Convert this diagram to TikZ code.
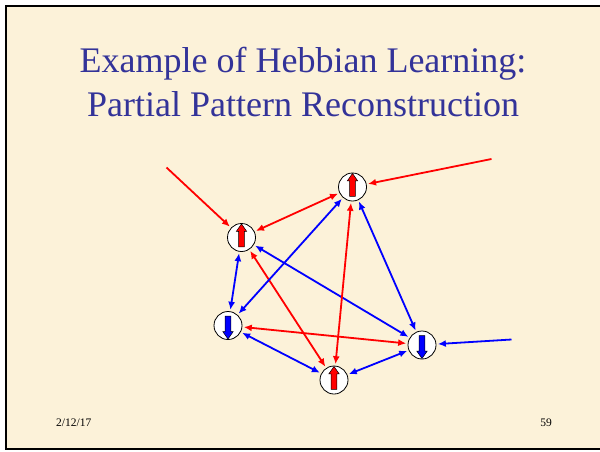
\documentclass[tikz,border=0pt]{standalone}
\usepackage{fontspec}
\setmainfont{Liberation Serif}
\usepackage{xcolor}
\usetikzlibrary{arrows.meta,shapes.arrows}
\definecolor{slidebg}{RGB}{252,242,217}
\definecolor{titleblue}{RGB}{51,51,153}
\tikzstyle{neuron} = [draw, circle, fill=white, line width=0.8pt, minimum size=28pt, inner sep=0pt]
\tikzstyle{spin} = [draw, single arrow, line width=0.5pt, minimum height=23pt, inner xsep=0pt, inner ysep=2.6pt, single arrow head extend=2.4pt, single arrow tip angle=70]
\tikzstyle{link} = [line width=1.8pt, {Latex[length=8pt,width=7pt]}-{Latex[length=8pt,width=7pt]}, shorten <=1.5pt, shorten >=1.5pt]
\tikzstyle{input} = [line width=1.8pt, -{Latex[length=8pt,width=7pt]}, shorten >=1.5pt]

\begin{document}
\begin{tikzpicture}[x=1pt, y=-1pt]
  \useasboundingbox (0,0) rectangle (600,451);
  \fill[white] (0,0) rectangle (600,451);
  \fill[slidebg] (6,6) rectangle (600,449);
  \draw[line width=2pt] (600,6) -- (6,6) -- (6,449) -- (600,449);

  % title and footer
  \node[anchor=base, text=titleblue, font=\fontsize{36}{44}\selectfont, inner sep=0pt] (title1) at (303,72) {Example of Hebbian Learning:};
  \node[anchor=base, text=titleblue, font=\fontsize{36}{44}\selectfont, inner sep=0pt] (title2) at (303,116) {Partial Pattern Reconstruction};
  \node[anchor=base west, font=\fontsize{11.5}{14}\selectfont, inner sep=0pt] (date) at (56,426) {2/12/17};
  \node[anchor=base east, font=\fontsize{11.5}{14}\selectfont, inner sep=0pt] (page) at (552,426) {59};

  % neurons
  \node[neuron] (nTop) at (352.5,187) {};
  \node[neuron] (nUpLeft) at (241.5,237.5) {};
  \node[neuron] (nLowLeft) at (228,325.5) {};
  \node[neuron] (nRight) at (422,345) {};
  \node[neuron] (nBottom) at (334,380) {};
  \node[spin, fill=red, rotate=90] (sTop) at (nTop) {};
  \node[spin, fill=red, rotate=90] (sUpLeft) at (nUpLeft) {};
  \node[spin, fill=blue, rotate=-90] (sLowLeft) at (nLowLeft) {};
  \node[spin, fill=blue, rotate=-90] (sRight) at (nRight) {};
  \node[spin, fill=red, rotate=90] (sBottom) at (nBottom) {};

  % external inputs
  \coordinate (inUpLeft) at (166.5,167.5);
  \coordinate (inTop) at (491.5,159);
  \coordinate (inRight) at (511.5,339.5);
  \draw[input, red] (inUpLeft) -- (nUpLeft);
  \draw[input, red] (inTop) -- (nTop);
  \draw[input, blue] (inRight) -- (nRight);

  % connections
  \draw[link, red] (nUpLeft) -- (nTop);
  \draw[link, blue] (nUpLeft) -- (nLowLeft);
  \draw[link, blue] (nUpLeft) -- (nRight);
  \draw[link, red] (nUpLeft) -- (nBottom);
  \draw[link, blue] (nTop) -- (nLowLeft);
  \draw[link, red] (nTop) -- (nBottom);
  \draw[link, blue] (nTop) -- (nRight);
  \draw[link, red] (nLowLeft) -- (nRight);
  \draw[link, blue] (nLowLeft) -- (nBottom);
  \draw[link, blue] (nBottom) -- (nRight);
\end{tikzpicture}
\end{document}
